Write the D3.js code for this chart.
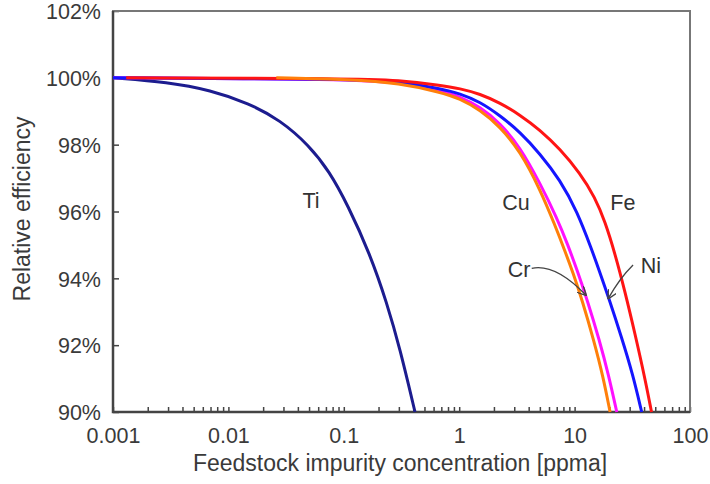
<!DOCTYPE html>
<html>
<head>
<meta charset="utf-8">
<script src="https://cdn.jsdelivr.net/npm/d3@7"></script>
<style>
body{margin:0;background:#fff}
svg{display:block}
text{font-family:"Liberation Sans",Arial,sans-serif}
</style>
</head>
<body>
<svg></svg>
<script>
var screen = {width:710,height:484}
var margins = {top:11,right:20,bottom:72,left:113}

// concentrations [ppma] and relative efficiency [%]
var tiConc = [0.001,0.003,0.007,0.015,0.028,0.05,0.075,0.108,0.169,0.236,0.307,0.414]
var tiEff  = [100,99.87,99.63,99.24,98.74,97.98,97.2,96.2,94.72,93.27,91.89,90]

var crConc = [0.001,0.113,0.307,0.682,1.016,1.515,2.258,3.365,5.01,7.04,8.77,10.49,12.88,16.4,19.7,23.2]
var crEff  = [100,99.96,99.86,99.62,99.44,99.13,98.65,97.93,96.85,95.8,94.99,94.25,93.35,92.15,91.11,90]

var niConc = [0.001,0.113,0.307,0.682,1.016,1.515,2.258,3.365,5.01,7.47,10.49,14.15,16.27,20.06,25.49,31.74,38.14]
var niEff  = [100,99.96,99.89,99.68,99.53,99.28,98.87,98.38,97.73,96.95,96.01,94.84,94.25,93.35,92.24,91.16,90]

var feConc = [0.0013,0.113,0.307,0.682,1.016,1.515,2.258,3.365,5.01,7.47,11.14,15.03,18.34,22.39,27.34,33.38,40.75,46.4]
var feEff  = [100,99.98,99.93,99.78,99.68,99.52,99.25,98.89,98.44,97.87,97.15,96.42,95.7,94.74,93.6,92.34,91.0,90]

var cuConc = [0.026,0.113,0.307,0.682,1.016,1.515,2.258,3.365,5.01,6.76,8.26,9.68,11.7,14.7,17.6,20.3]
var cuEff  = [100,99.95,99.84,99.57,99.38,99.04,98.54,97.81,96.67,95.59,94.81,94.17,93.32,92.13,91.08,90]

var seriesNames  = ["Ti","Cr","Ni","Fe","Cu"]
var seriesColors = ["#1c1c8f","#ff10ff","#1515ff","#ff1414","#ff7f0a"]

var yTicks = [90,92,94,96,98,100,102]
var xMajor = [0.001,0.01,0.1,1,10,100]
var xMajorLabels = ["0.001","0.01","0.1","1","10","100"]

// curve labels: text, conc, eff
var labelText = ["Ti","Cu","Fe","Cr","Ni"]
var labelConc = [0.052,3.1,26.2,3.3,45.9]
var labelEff  = [96.1,96.04,96.04,94.04,94.16]

// arrows from label to curve: start, control, end in data units
var arrowFrom = [[4.25,94.3],[32.1,94.4]]
var arrowCtrl = [[6.8,94.45],[24.5,94.0]]
var arrowTo   = [[12.5,93.5],[19.6,93.4]]

var width = screen.width - margins.left - margins.right
var height = screen.height - margins.top - margins.bottom

var svg = d3.select("svg")
    .attr("width",screen.width)
    .attr("height",screen.height)

var xScale = d3.scaleLog()
    .domain([0.001,100])
    .range([0,width])

var yScale = d3.scaleLinear()
    .domain([90,102])
    .range([height,0])

var graph = svg.append("g")
    .attr("transform","translate("+margins.left+","+margins.top+")")

// minor + major ticks for the log axis
var xTicks = [0.001]
xMajor.slice(0,-1).forEach(function(d)
{
    for(var k=2;k<=10;k++){xTicks.push(d*k)}
})

var xAxis = d3.axisBottom(xScale)
    .tickValues(xTicks)
    .tickSize(-5)
    .tickPadding(16)
    .tickFormat(function(d)
    {
        var i = xMajor.findIndex(function(m){return Math.abs(m-d)/m<1e-6})
        return i>=0 ? xMajorLabels[i] : ""
    })

var yAxis = d3.axisLeft(yScale)
    .tickValues(yTicks)
    .tickSize(-6)
    .tickPadding(12)
    .tickFormat(function(d){return d+"%"})

var gx = graph.append("g")
    .attr("transform","translate(0,"+height+")")
    .call(xAxis)
var gy = graph.append("g")
    .call(yAxis)

;[gx,gy].forEach(function(g)
{
    g.select(".domain").remove()
    g.selectAll(".tick line").attr("stroke","#444").attr("stroke-width",1.5)
    g.selectAll(".tick text")
        .attr("fill","#3a3a3a")
        .style("font-size","21.5px")
})
gy.selectAll(".tick text").attr("dy","0.36em")

// frame
graph.append("rect")
    .attr("width",width)
    .attr("height",height)
    .attr("fill","none")
    .attr("stroke","#777")
    .attr("stroke-width",2)
graph.append("path")
    .attr("d","M0,0V"+height+"H"+width)
    .attr("fill","none")
    .attr("stroke","#444")
    .attr("stroke-width",2.5)

// curves
var concs = [tiConc,crConc,niConc,feConc,cuConc]
var effs  = [tiEff,crEff,niEff,feEff,cuEff]

var line = d3.line()
    .x(function(d){return xScale(d[0])})
    .y(function(d){return yScale(d[1])})
    .curve(d3.curveBasis)

graph.selectAll(".curve")
    .data(seriesNames)
    .enter()
    .append("path")
    .attr("class","curve")
    .attr("fill","none")
    .attr("stroke",function(d,i){return seriesColors[i]})
    .attr("stroke-width",3)
    .attr("d",function(d,i)
    {
        return line(d3.zip(concs[i],effs[i]))
    })

// labels
graph.selectAll(".lbl")
    .data(labelText)
    .enter()
    .append("text")
    .attr("class","lbl")
    .attr("x",function(d,i){return xScale(labelConc[i])})
    .attr("y",function(d,i){return yScale(labelEff[i])})
    .attr("text-anchor","middle")
    .attr("fill","#333")
    .style("font-size","21.5px")
    .text(function(d){return d})

// arrow heads
svg.append("defs").append("marker")
    .attr("id","head")
    .attr("viewBox","0 0 10 10")
    .attr("refX",9)
    .attr("refY",5)
    .attr("markerWidth",9)
    .attr("markerHeight",9)
    .attr("markerUnits","userSpaceOnUse")
    .attr("orient","auto")
    .append("path")
    .attr("d","M0,0L10,5L0,10")
    .attr("fill","none")
    .attr("stroke","#444")
    .attr("stroke-width",1.6)

graph.selectAll(".arrow")
    .data(arrowFrom)
    .enter()
    .append("path")
    .attr("class","arrow")
    .attr("fill","none")
    .attr("stroke","#444")
    .attr("stroke-width",1.3)
    .attr("marker-end","url(#head)")
    .attr("d",function(d,i)
    {
        var c = arrowCtrl[i], t = arrowTo[i]
        return "M"+xScale(d[0])+","+yScale(d[1])+
            "Q"+xScale(c[0])+","+yScale(c[1])+" "+xScale(t[0])+","+yScale(t[1])
    })

// axis titles
svg.append("text")
    .attr("x",400)
    .attr("y",471)
    .attr("text-anchor","middle")
    .attr("fill","#3a3a3a")
    .style("font-size","23px")
    .text("Feedstock impurity concentration [ppma]")

svg.append("text")
    .attr("transform","translate(30,209) rotate(-90)")
    .attr("text-anchor","middle")
    .attr("fill","#3a3a3a")
    .style("font-size","23px")
    .text("Relative efficiency")
</script>
</body>
</html>
